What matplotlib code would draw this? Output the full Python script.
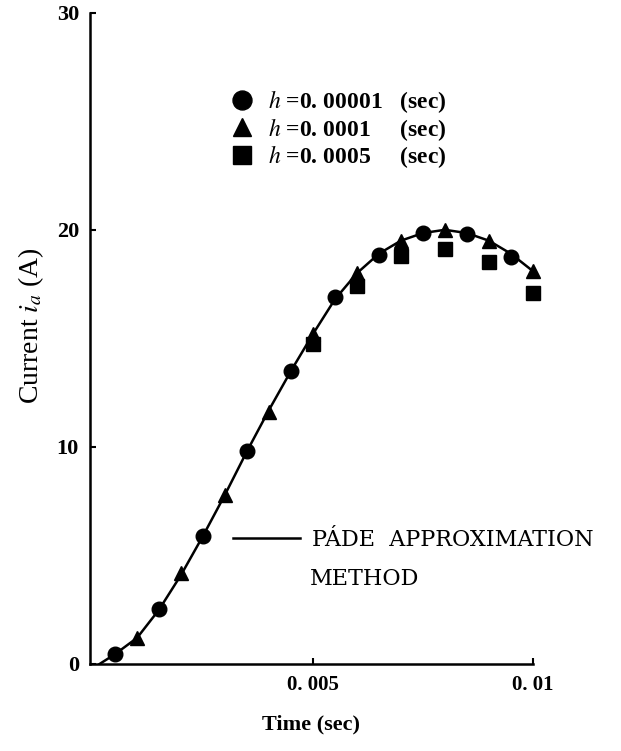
import matplotlib.pyplot as plt

plt.rcParams['font.family'] = ['Liberation Serif', 'DejaVu Serif']
plt.rcParams['mathtext.fontset'] = 'stix'

# curva do metodo de Pade
t_pade = [0.00015, 0.0005, 0.001, 0.0015, 0.002, 0.0025, 0.003, 0.0035, 0.004, 0.0045,
          0.005, 0.0055, 0.006, 0.0065, 0.007, 0.0075, 0.008, 0.0085, 0.009, 0.0095, 0.01]
i_pade = [0.0, 0.45, 1.2, 2.5, 4.1, 5.9, 7.8, 9.8, 11.7, 13.5,
          15.2, 16.8, 18.0, 18.9, 19.5, 19.85, 20.0, 19.85, 19.5, 18.9, 18.1]

# h = 0.00001
t_h1 = [0.0005, 0.0015, 0.0025, 0.0035, 0.0045, 0.0055, 0.0065, 0.0075, 0.0085, 0.0095]
i_h1 = [0.45, 2.55, 5.9, 9.8, 13.5, 16.9, 18.85, 19.85, 19.8, 18.75]

# h = 0.0001
t_h2 = [0.001, 0.002, 0.003, 0.004, 0.005, 0.006, 0.007, 0.008, 0.009, 0.01]
i_h2 = [1.2, 4.2, 7.8, 11.6, 15.2, 18.0, 19.5, 20.0, 19.5, 18.1]

# h = 0.0005
t_h3 = [0.005, 0.006, 0.007, 0.008, 0.009, 0.01]
i_h3 = [14.75, 17.4, 18.8, 19.1, 18.5, 17.1]

xticks = [0.005, 0.01]
xticklabels = ['0. 005', '0. 01']
yticks = [0, 10, 20, 30]

fig = plt.figure(figsize=(6.21, 7.51), dpi=100)
ax = fig.add_axes([0.145, 0.116, 0.713, 0.867])

linha, = ax.plot(t_pade, i_pade, color='k', lw=1.8)
c, = ax.plot(t_h1, i_h1, 'o', color='k', ms=10.5, ls='none', clip_on=False)
tr, = ax.plot(t_h2, i_h2, '^', color='k', ms=9.5, ls='none', clip_on=False)
sq, = ax.plot(t_h3, i_h3, 's', color='k', ms=9.5, ls='none', clip_on=False)

ax.set_xlim(-0.00007, 0.01)
ax.set_ylim(0, 30)
ax.spines['top'].set_visible(False)
ax.spines['right'].set_visible(False)
ax.spines['left'].set_linewidth(1.8)
ax.spines['bottom'].set_linewidth(1.8)

ax.set_xticks(xticks)
ax.set_xticklabels(xticklabels, fontsize=15, fontweight='bold')
ax.set_yticks(yticks)
ax.set_yticklabels([str(v) for v in yticks], fontsize=16, fontweight='bold')
ax.tick_params(direction='in', length=4, width=1.5, pad=8)

ax.set_xlabel('Time (sec)', fontsize=16, fontweight='bold', labelpad=14)
ax.set_ylabel(r'Current $i_a$ (A)', fontsize=20)
ax.yaxis.set_label_coords(-0.1, 0.52)

leg = ax.legend([c, tr, sq],
                [r'$h$ =0. 00001   (sec)', r'$h$ =0. 0001     (sec)', r'$h$ =0. 0005     (sec)'],
                loc='upper left', bbox_to_anchor=(0.268, 0.917), frameon=False,
                prop={'size': 17, 'weight': 'bold'}, markerscale=1.3,
                handletextpad=0.55, labelspacing=0.03, handlelength=1.05)
ax.add_artist(leg)

leg2 = ax.legend([linha], ['PÁDE  APPROXIMATION'], loc='upper left',
                 bbox_to_anchor=(0.278, 0.238), frameon=False,
                 prop={'size': 16, 'family': 'DejaVu Serif'},
                 handlelength=3.0, handletextpad=0.55)
ax.text(0.497, 0.13, 'METHOD', transform=ax.transAxes, fontsize=16,
        family='DejaVu Serif', va='center')

fig.savefig('out.png', dpi=100)
